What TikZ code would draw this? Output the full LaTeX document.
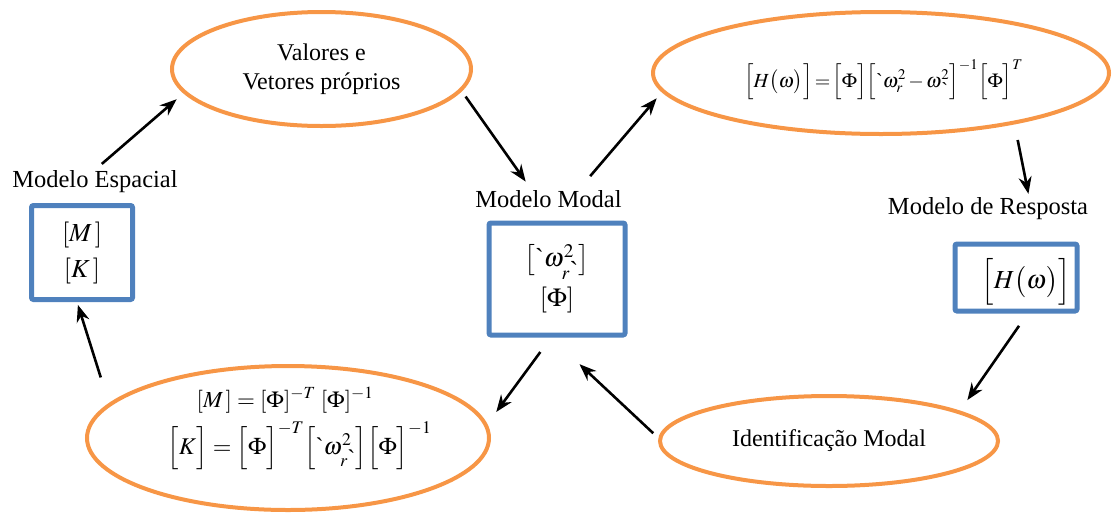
\documentclass[tikz,border=0pt]{standalone}
\usepackage{mathptmx}
\usepackage{fontspec}
\setmainfont{Liberation Serif}
\usetikzlibrary{arrows.meta,calc,shapes.geometric}
\definecolor{ovalorange}{RGB}{247,150,70}
\definecolor{boxblue}{RGB}{79,129,189}
\newcommand{\gmark}{\mbox{\textasciigrave}}

\begin{document}
\begin{tikzpicture}[x=1pt,y=-1pt,>=Stealth,
  oval/.style={ellipse,draw=ovalorange,line width=4pt,inner sep=0pt},
  matbox/.style={rectangle,draw=boxblue,line width=5pt,rounded corners=2pt,inner sep=0pt},
  lbl/.style={anchor=base,inner sep=0pt,font=\fontsize{24.5}{28}\selectfont},
  arr/.style={line width=2.6pt,-{Stealth[length=17pt,width=13pt]}}]
  \useasboundingbox (0,0) rectangle (1113,515);
  % ellipses
  \node[oval,minimum width=299pt,minimum height=114pt,align=center,
        font=\fontsize{24}{29}\selectfont] (eigen) at (321.5,69) {Valores e\\Vetores próprios};
  \node[oval,minimum width=456pt,minimum height=122pt] (frf) at (881,73) {};
  \node[font=\fontsize{20}{24}\selectfont] (frfEq) at (883.5,80)
    {\thickmuskip=2mu\medmuskip=2mu
     $\Big[H\big(\omega\big)\Big]=\Big[\Phi\Big]\Big[\gmark\omega_r^2-\omega^2_{\,\gmark}\Big]^{-1}\Big[\Phi\Big]^T$};
  \node[oval,minimum width=402pt,minimum height=144pt] (inverse) at (288,438) {};
  \node[font=\fontsize{23}{27}\selectfont] (invM) at (285,400)
    {$[M\,]=[\Phi]^{-T}\;[\Phi]^{-1}$};
  \node[font=\fontsize{24}{29}\selectfont] (invK) at (299.5,446)
    {$\Big[K\Big]=\Big[\Phi\Big]^{-T}\Big[\gmark\omega^2_{r\gmark}\Big]\Big[\Phi\Big]^{-1}$};
  \node[oval,minimum width=338pt,minimum height=90pt,
        font=\fontsize{24}{29}\selectfont] (ident) at (829,441) {Identificação Modal};
  % boxes
  \node[matbox,minimum width=101pt,minimum height=94pt,align=center,
        font=\fontsize{26}{36}\selectfont] (spatial) at (82,252.5) {$[M\,]$\\$[K\,]$};
  \node[matbox,minimum width=136pt,minimum height=112pt,align=center,
        font=\fontsize{26}{40}\selectfont] (modal) at (557,279)
    {$\big[\gmark\omega^2_{r\gmark}\big]$\\$[\Phi]$};
  \node[matbox,minimum width=122pt,minimum height=67pt] (response) at (1016,277.5) {};
  \node[font=\fontsize{26}{31}\selectfont] (responseEq) at (1026,282)
    {$\Big[H\big(\omega\big)\Big]$};
  % labels
  \node[lbl] (spatialLbl) at (95,187) {Modelo Espacial};
  \node[lbl] (modalLbl) at (548.5,207) {Modelo Modal};
  \node[lbl] (responseLbl) at (988,214) {Modelo de Resposta};
  % arrows
  \draw[arr,shorten <=9pt,shorten >=9pt] (spatialLbl.north) -- (eigen.190);
  \draw[arr,shorten <=6.5pt,shorten >=10pt] (eigen.351) -- ([xshift=-17pt]modalLbl.north);
  \draw[arr,shorten <=18pt,shorten >=8pt] ([xshift=30pt]modalLbl.north) -- (frf.185);
  \draw[arr,shorten <=16pt,shorten >=3pt] (frf.339) -- ([xshift=41pt]responseLbl.north);
  \draw[arr,shorten <=15pt,shorten >=13pt] ([xshift=11.6pt]response.south) -- (ident.13);
  \draw[arr,shorten <=7pt,shorten >=39pt] (ident.179) -- ([xshift=-6pt]modal.south);
  \draw[arr,shorten <=18pt,shorten >=15pt] ([xshift=-6pt]modal.south) -- (inverse.4);
  \draw[arr,shorten <=27pt,shorten >=3pt] (inverse.169) -- ([xshift=-5pt]spatial.south);
\end{tikzpicture}
\end{document}
